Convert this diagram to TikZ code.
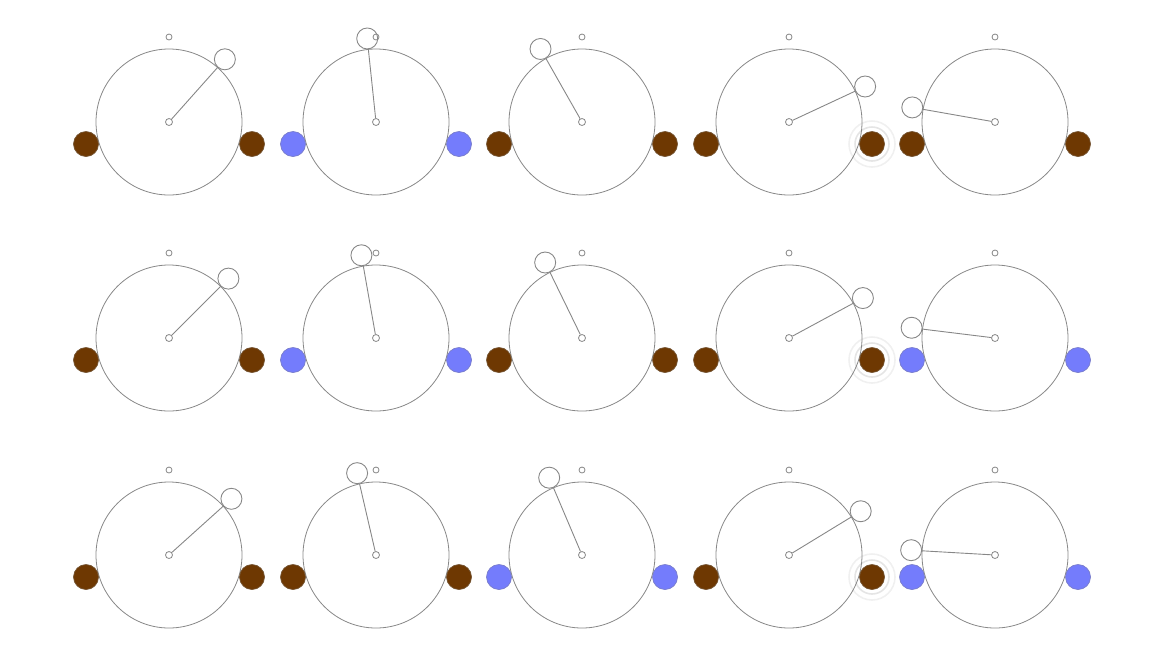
\documentclass[tikz,border=0pt]{standalone}
\usepackage{tikz}
\usetikzlibrary{backgrounds}
\definecolor{pbrown}{RGB}{110,56,2}
\definecolor{pblue}{RGB}{116,124,252}
\definecolor{pline}{RGB}{135,135,135}

\begin{document}
\begin{tikzpicture}[x=1pt, y=-1pt,
  ring/.style={draw=pline, circle, inner sep=0pt, minimum size=146pt, line width=.8pt},
  pivot/.style={draw=pline, circle, inner sep=0pt, minimum size=7pt, line width=.8pt},
  topdot/.style={draw=pline, circle, inner sep=0pt, minimum size=6pt, line width=.8pt},
  bob/.style={draw=pline, circle, inner sep=0pt, minimum size=21pt, line width=.9pt},
  rod/.style={draw=pline, line width=.9pt},
  ball/.style={circle, inner sep=0pt, minimum size=25pt, fill=#1, draw=#1!60!gray, line width=.7pt},
  glow/.style={draw=black!9, line width=1.6pt}
]
\useasboundingbox (0,0) rectangle (1156,649);

% panels: row-col / centre / angle of rod (from top, clockwise) / ball colour
\foreach \n/\cx/\cy/\ang/\bc in {
  1-1/169/122/41.7/pbrown, 1-2/376/122/-6/pblue,  1-3/582/122/-29.6/pbrown, 1-4/789/122/65/pbrown,   1-5/995/122/-80/pbrown,
  2-1/169/338/45/pbrown,   2-2/376/338/-10/pblue, 2-3/582/338/-26/pbrown,   2-4/789/338/61.6/pbrown, 2-5/995/338/-83/pblue,
  3-1/169/555/48/pbrown,   3-2/376/555/-13/pbrown,3-3/582/555/-23/pblue,    3-4/789/555/58.6/pbrown, 3-5/995/555/-86.7/pblue}
{
  \node[ring] (ring-\n) at (\cx,\cy) {};
  \node[pivot] (piv-\n) at (\cx,\cy) {};
  \node[topdot] (top-\n) at (\cx,\cy-85) {};
  \node[ball=\bc] (lb-\n) at (\cx-83,\cy+22) {};
  \node[ball=\bc] (rb-\n) at (\cx+83,\cy+22) {};
  \path (piv-\n.center) ++({\ang-90}:84) node[bob] (bob-\n) {};
  \draw[rod] (piv-\n) -- (bob-\n);
}

% halo round the right ball of the fourth panel
\begin{scope}[on background layer]
  \foreach \r in {1,2,3}
    \foreach \rad/\op in {17/10,23/6}
      \draw[glow, draw=black!\op] (rb-\r-4.center) circle (\rad);
\end{scope}
\end{tikzpicture}
\end{document}
